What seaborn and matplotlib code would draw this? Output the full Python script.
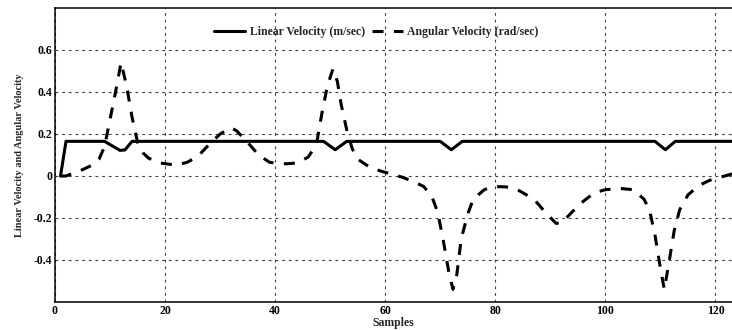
import matplotlib
matplotlib.use("Agg")
import matplotlib.pyplot as plt
import seaborn as sns
import numpy as np

# ---- data ----
linear_x = [1, 2, 9, 11.8, 12.7, 14, 48.8, 50.9, 53, 70, 72, 74, 109, 110.9, 112.7, 123]
linear_y = [0, 0.165, 0.165, 0.122, 0.124, 0.165, 0.165, 0.125, 0.165, 0.165, 0.125,
            0.165, 0.165, 0.125, 0.165, 0.165]

angular_x = [1, 2, 3, 5, 7, 8, 9, 10, 11, 12, 13, 14, 15, 16, 17, 19, 22, 24, 26, 28, 30,
             32, 33, 35, 37, 39, 42, 44, 46, 47.5, 48.5, 49.5, 50.5, 51.3, 52, 53, 54, 55,
             57, 59, 61, 63, 65, 67, 68.5, 69.5, 70.5, 71.5, 72.3, 73, 73.8, 75, 76, 78,
             80, 82, 84, 87, 89, 91, 92, 94, 96, 98, 100, 103, 105, 107, 108, 109, 110,
             110.7, 111.5, 112.5, 113.5, 115, 117, 119, 121, 123]
angular_y = [0, 0, 0.01, 0.03, 0.055, 0.08, 0.14, 0.27, 0.4, 0.54, 0.43, 0.28, 0.16, 0.11,
             0.085, 0.062, 0.052, 0.065, 0.095, 0.15, 0.2, 0.23, 0.215, 0.16, 0.1, 0.065,
             0.058, 0.062, 0.09, 0.15, 0.3, 0.43, 0.51, 0.45, 0.34, 0.22, 0.13, 0.08,
             0.045, 0.025, 0.01, -0.005, -0.025, -0.05, -0.1, -0.17, -0.3, -0.45, -0.54,
             -0.47, -0.3, -0.18, -0.11, -0.065, -0.05, -0.052, -0.065, -0.11, -0.17,
             -0.225, -0.225, -0.17, -0.12, -0.08, -0.065, -0.06, -0.065, -0.11, -0.16,
             -0.28, -0.44, -0.54, -0.42, -0.26, -0.16, -0.09, -0.045, -0.02, -0.005, 0.01]

x_ticks = [0, 20, 40, 60, 80, 100, 120]
y_ticks = [-0.4, -0.2, 0, 0.2, 0.4, 0.6]
y_tick_labels = ["-0.4", "-0.2", "0", "0.2", "0.4", "0.6"]
x_label = "Samples"
y_label = "Linear Velocity and Angular Velocity"
series_names = ["Linear Velocity (m/sec)", "Angular Velocity (rad/sec)"]

# ---- style ----
sns.set_style("white")
plt.rcParams["font.family"] = ["Liberation Serif", "DejaVu Serif"]
plt.rcParams["font.weight"] = "bold"

fig = plt.figure(figsize=(7.32, 3.30), dpi=100)
ax = fig.add_axes([55 / 732, 1 - 302 / 330, 677 / 732, (302 - 8) / 330])

sns.lineplot(x=linear_x, y=linear_y, ax=ax, color="black", linewidth=2.2,
             label=series_names[0], sort=False)
sns.lineplot(x=angular_x, y=angular_y, ax=ax, color="black", linewidth=2.2,
             label=series_names[1], sort=False)
ax.lines[1].set_dashes((3.6, 3.4))

ax.set_xlim(0, 123)
ax.set_ylim(-0.6, 0.8)
ax.set_xticks(x_ticks)
ax.set_xticklabels([str(t) for t in x_ticks], fontsize=8.5, fontweight="bold")
ax.set_yticks(y_ticks)
ax.set_yticklabels(y_tick_labels, fontsize=8.5, fontweight="bold")
ax.tick_params(direction="in", length=3, width=0.8, colors="black", pad=2)

ax.grid(True, color="#404040", linestyle=(0, (2.5, 3.5)), linewidth=0.8)

for side in ["left", "bottom", "top"]:
    ax.spines[side].set_visible(True)
    ax.spines[side].set_color("black")
    ax.spines[side].set_linewidth(1.1)
ax.spines["right"].set_visible(False)

ax.set_xlabel(x_label, fontsize=8.5, fontweight="bold", labelpad=0)
ax.set_ylabel(y_label, fontsize=7.5, fontweight="bold", labelpad=7)

leg = ax.legend(loc="center", bbox_to_anchor=(0.475, 0.918), ncol=2, frameon=False,
                fontsize=8.5, handlelength=2.6, handletextpad=0.4, columnspacing=0.6,
                borderaxespad=0)
for t in leg.get_texts():
    t.set_fontweight("bold")
leg.get_lines()[1].set_dashes((3.6, 3.4))

fig.savefig("out.png", dpi=100)
